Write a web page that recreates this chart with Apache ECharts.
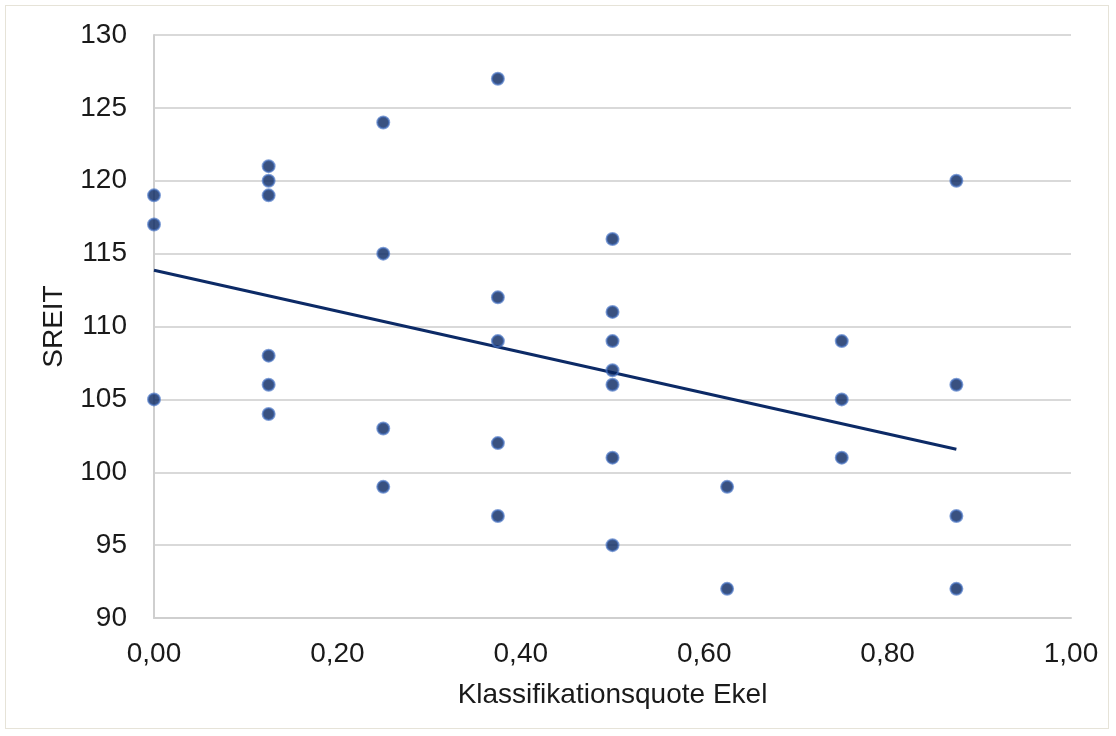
<!DOCTYPE html>
<html>
<head>
<meta charset="utf-8">
<script src="https://cdn.jsdelivr.net/npm/echarts@6/dist/echarts.min.js"></script>
<style>
  html, body { margin: 0; padding: 0; background: #fff; }
  #frame { position: absolute; left: 5px; top: 5px; width: 1104px; height: 724px; border: 1px solid #e6e3d8; box-sizing: border-box; }
  #chart { width: 100%; height: 100%; }
</style>
</head>
<body>
<div id="frame"><div id="chart"></div></div>
<script>
// Klassifikationsquote Ekel (x) vs. SREIT (y)
var quoteX = [0, 0, 0,
  0.125, 0.125, 0.125, 0.125, 0.125, 0.125,
  0.25, 0.25, 0.25, 0.25,
  0.375, 0.375, 0.375, 0.375, 0.375,
  0.5, 0.5, 0.5, 0.5, 0.5, 0.5, 0.5,
  0.625, 0.625,
  0.75, 0.75, 0.75,
  0.875, 0.875, 0.875, 0.875];
var sreitY = [119, 117, 105,
  121, 120, 119, 108, 106, 104,
  124, 115, 103, 99,
  127, 112, 109, 102, 97,
  116, 111, 109, 107, 106, 101, 95,
  99, 92,
  109, 105, 101,
  120, 106, 97, 92];

var points = quoteX.map(function (x, i) { return [x, sreitY[i]]; });

// linear trendline (least squares), as Excel draws it
var n = quoteX.length, sx = 0, sy = 0, sxx = 0, sxy = 0;
for (var i = 0; i < n; i++) {
  sx += quoteX[i]; sy += sreitY[i];
  sxx += quoteX[i] * quoteX[i]; sxy += quoteX[i] * sreitY[i];
}
var slope = (n * sxy - sx * sy) / (n * sxx - sx * sx);
var icpt = (sy - slope * sx) / n;
var xMin = Math.min.apply(null, quoteX), xMax = Math.max.apply(null, quoteX);
var trend = [[xMin, icpt + slope * xMin], [xMax, icpt + slope * xMax]];

var font = 'Liberation Sans, Arial, sans-serif';
var ink = '#1a1a1a';
var chart = echarts.init(document.getElementById('chart'), null, { renderer: 'canvas' });
chart.setOption({
  animation: false,
  grid: { left: 148, right: 37, top: 29, bottom: 110 },
  xAxis: {
    type: 'value', min: 0, max: 1, interval: 0.2,
    name: 'Klassifikationsquote Ekel', nameLocation: 'middle', nameGap: 63,
    nameTextStyle: { fontFamily: font, fontSize: 28, color: ink },
    axisLine: { show: true, lineStyle: { color: '#cfcfcf', width: 2 } },
    axisTick: { show: false },
    splitLine: { show: false },
    axisLabel: { fontFamily: font, fontSize: 28, color: ink, margin: 22,
      formatter: function (v) { return v.toFixed(2).replace('.', ','); } }
  },
  yAxis: {
    type: 'value', min: 90, max: 130, interval: 5,
    name: 'SREIT', nameLocation: 'middle', nameGap: 86, nameRotate: 90,
    nameTextStyle: { fontFamily: font, fontSize: 28, color: ink },
    axisLine: { show: true, lineStyle: { color: '#cfcfcf', width: 2 } },
    axisTick: { show: false },
    splitLine: { show: true, lineStyle: { color: '#d9d9d9', width: 2 } },
    axisLabel: { fontFamily: font, fontSize: 28, color: ink, margin: 27 }
  },
  series: [
    {
      type: 'line', data: trend, symbol: 'none', silent: true, z: 2,
      lineStyle: { color: '#0c2a66', width: 3 }
    },
    {
      type: 'scatter', data: points, symbolSize: 12, z: 3,
      itemStyle: { color: '#082560', borderColor: 'rgba(70,115,195,0.85)', borderWidth: 2 }
    }
  ]
});
</script>
</body>
</html>
